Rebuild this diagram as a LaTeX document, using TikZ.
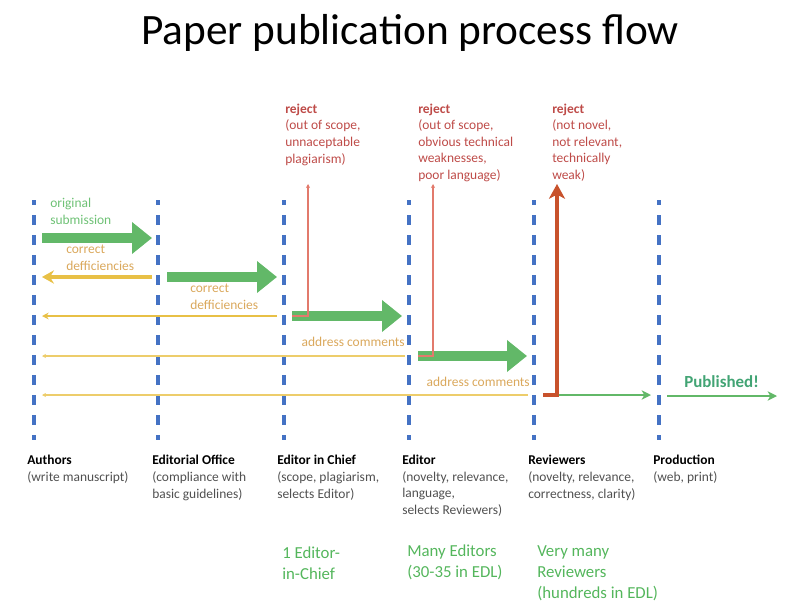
\documentclass[tikz,border=0pt]{standalone}
\usepackage{fontspec}
\setmainfont{Carlito}
\usepackage{xcolor}
\definecolor{laneblue}{RGB}{68, 114, 196}
\definecolor{flowgreen}{RGB}{98, 184, 104}
\definecolor{backgold}{RGB}{232, 192, 70}
\definecolor{notegold}{RGB}{218, 168, 92}
\definecolor{rejectred}{RGB}{190, 75, 72}
\definecolor{thinred}{RGB}{226, 122, 108}
\definecolor{hardred}{RGB}{200, 82, 44}
\definecolor{countgreen}{RGB}{84, 182, 92}
\definecolor{pubgreen}{RGB}{66, 164, 116}
\definecolor{roletext}{RGB}{80, 80, 80}
\usepackage{tikz}
\usetikzlibrary{arrows.meta, positioning, calc}

\begin{document}
\begin{tikzpicture}[x=0.75pt, y=-0.75pt, >=Stealth,
    lane/.style={draw=laneblue, line width=2.3pt, dash pattern=on 7.5pt off 7.5pt, dash phase=3.5pt},
    blockarrow/.style={draw=flowgreen, line width=6.8pt, -{Triangle[length=15pt, width=23pt]}},
    backarrow/.style={draw=backgold, line width=3pt, -{Stealth[length=9pt, width=10pt, inset=3pt]}},
    backline/.style={draw=backgold, line width=1.5pt, -{Stealth[length=5pt, width=5pt]}},
    backthin/.style={draw=backgold!80, line width=0.9pt, -{Stealth[length=3pt, width=3pt]}},
    rejline/.style={draw=thinred, line width=0.8pt, -{Stealth[length=3pt, width=3pt]}},
    labeltxt/.style={font=\fontsize{10.1}{12.45}\selectfont, align=left, inner sep=0pt, anchor=base west},
    counttxt/.style={font=\fontsize{12.6}{15.4}\selectfont, align=left, inner sep=0pt, anchor=base west, text=countgreen}]

    % Canvas
    \useasboundingbox (0,0) rectangle (800,614);

    % Title
    \node[font=\fontsize{32.5}{38}\selectfont, anchor=base, inner sep=0pt] (title) at (410,45) {Paper publication process flow};

    % Swim lanes (dashed)
    \foreach \x [count=\i] in {34,158,284,409,534,659} {
        \coordinate (top\i) at (\x,200);
        \coordinate (bot\i) at (\x,440);
        \draw[lane] (top\i) -- (bot\i);
    }

    % Forward flow (green block arrows)
    \coordinate (subA) at (42,238);  \coordinate (subB) at (152,238);
    \coordinate (offA) at (167,277); \coordinate (offB) at (277,277);
    \coordinate (eicA) at (292,316); \coordinate (eicB) at (402,316);
    \coordinate (edA)  at (418,356); \coordinate (edB)  at (527,356);
    \draw[blockarrow] (subA) -- (subB);
    \draw[blockarrow] (offA) -- (offB);
    \draw[blockarrow] (eicA) -- (eicB);
    \draw[blockarrow] (edA) -- (edB);

    % Returns to authors (gold)
    \coordinate (ret1A) at (152,277); \coordinate (ret1B) at (42,277);
    \coordinate (ret2A) at (277,316); \coordinate (ret2B) at (42,316);
    \coordinate (ret3A) at (405,356); \coordinate (ret3B) at (42,356);
    \coordinate (ret4A) at (528,395); \coordinate (ret4B) at (42,395);
    \draw[backarrow] (ret1A) -- (ret1B);
    \draw[backline] (ret2A) -- (ret2B);
    \draw[backthin] (ret3A) -- (ret3B);
    \draw[backthin] (ret4A) -- (ret4B);

    % Accept and publish
    \coordinate (revA) at (557,395); \coordinate (revB) at (651,395);
    \coordinate (pubA) at (667,396); \coordinate (pubB) at (777,396);
    \draw[draw=flowgreen, line width=1.5pt, -{Stealth[length=7pt, width=7pt, inset=2pt]}] (revA) -- (revB);
    \draw[draw=flowgreen, line width=1.9pt, -{Stealth[length=7pt, width=7pt, inset=2pt]}] (pubA) -- (pubB);

    % Reject paths (red)
    \coordinate (rej1) at (308,184);
    \coordinate (rej2) at (433,184);
    \coordinate (rej3) at (557,184);
    \draw[rejline] (eicA) -| (rej1);
    \draw[rejline] (edA) -| (rej2);
    \coordinate (hardA) at (543,395);
    \draw[draw=hardred, line width=3.6pt, -{Stealth[length=11pt, width=12pt, inset=3pt]}] (hardA) -| (rej3);

    % Arrow labels (anchored on the last line's baseline)
    \node[labeltxt, text=countgreen!85] (orig) at (50,224) {original\\submission};
    \node[labeltxt, text=notegold] (corr1) at (66,270.5) {correct\\defficiencies};
    \node[labeltxt, text=notegold] (corr2) at (190,309.5) {correct\\defficiencies};
    \node[labeltxt, text=notegold, anchor=base east] (addr1) at (405,346) {address comments};
    \node[labeltxt, text=notegold, anchor=base east] (addr2) at (530,386) {address comments};
    \node[labeltxt, text=pubgreen, font=\fontsize{12.7}{15}\selectfont\bfseries] (pub) at (684,387) {Published!};

    % Reject reasons
    \node[labeltxt, text=rejectred] (why1) at (285,163) {\textbf{reject}\\(out of scope,\\unnaceptable\\plagiarism)};
    \node[labeltxt, text=rejectred] (why2) at (418,179.5) {\textbf{reject}\\(out of scope,\\obvious technical\\weaknesses,\\poor language)};
    \node[labeltxt, text=rejectred] (why3) at (552,179.5) {\textbf{reject}\\(not novel,\\not relevant,\\technically\\weak)};

    % Roles
    \node[labeltxt, text=roletext] (authors) at (27,481.5) {\textcolor{black}{\textbf{Authors}}\\(write manuscript)};
    \node[labeltxt, text=roletext] (office) at (152,498) {\textcolor{black}{\textbf{Editorial Office}}\\(compliance with\\basic guidelines)};
    \node[labeltxt, text=roletext] (chief) at (277,498) {\textcolor{black}{\textbf{Editor in Chief}}\\(scope, plagiarism,\\selects Editor)};
    \node[labeltxt, text=roletext] (editor) at (402,514.5) {\textcolor{black}{\textbf{Editor}}\\(novelty, relevance,\\language,\\selects Reviewers)};
    \node[labeltxt, text=roletext] (reviewers) at (528,498) {\textcolor{black}{\textbf{Reviewers}}\\(novelty, relevance,\\correctness, clarity)};
    \node[labeltxt, text=roletext] (production) at (653,481.5) {\textcolor{black}{\textbf{Production}}\\(web, print)};

    % Head counts
    \node[counttxt] (n1) at (282,579) {1 Editor-\\in-Chief};
    \node[counttxt] (n2) at (407,577) {Many Editors\\(30-35 in EDL)};
    \node[counttxt] (n3) at (537,598) {Very many\\Reviewers\\(hundreds in EDL)};

\end{tikzpicture}
\end{document}
